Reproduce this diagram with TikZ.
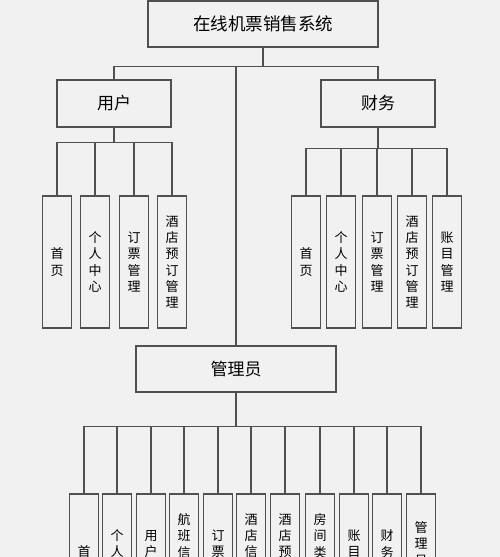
\documentclass[tikz,border=0pt]{standalone}
\usepackage{fontspec}
\setmainfont{Noto Sans CJK SC}
\usetikzlibrary{positioning}
\definecolor{bggray}{HTML}{F1F1F1}
\definecolor{linegray}{HTML}{505050}
\tikzset{
	box/.style={draw=linegray,line width=1.3pt,fill=bggray,inner sep=0pt,text=black,font=\fontsize{17}{19}\selectfont},
	leaf/.style={box,minimum width=29,minimum height=132,align=center,font=\fontsize{13}{16.3}\selectfont},
	wire/.style={linegray,line width=1.2pt}
}
\begin{document}
\begin{tikzpicture}[x=1pt,y=-1pt]
	\useasboundingbox (0,0) rectangle (500,557);
	\clip (0,0) rectangle (500,557);
	\fill[bggray] (0,0) rectangle (500,557);
	% main blocks
	\node[box,minimum width=230,minimum height=46,font=\fontsize{17.5}{19}\selectfont] (sys) at (263,24) {在线机票销售系统};
	\node[box,minimum width=114,minimum height=47] (user) at (114,103.5) {用户};
	\node[box,minimum width=114,minimum height=47] (fin) at (378,103.5) {财务};
	\node[box,minimum width=200,minimum height=46] (admin) at (236,369) {管理员};
	% leaves
	\foreach \x/\t [count=\i] in {57/{首\\页},95/{个\\人\\中\\心},134/{订\\票\\管\\理},172/{酒\\店\\预\\订\\管\\理}}
	\node[leaf] (u\i) at (\x,262) {\t};
	\foreach \x/\t [count=\i] in {306/{首\\页},341/{个\\人\\中\\心},377/{订\\票\\管\\理},412/{酒\\店\\预\\订\\管\\理},447/{账\\目\\管\\理}}
	\node[leaf] (f\i) at (\x,262) {\t};
	\foreach \x/\t [count=\i] in {84/{首\\页},117/{个\\人\\中\\心},151/{用\\户\\管\\理},184/{航\\班\\信\\息\\管\\理},218/{订\\票\\管\\理},251/{酒\\店\\信\\息\\管\\理},285/{酒\\店\\预\\订\\管\\理},320/{房\\间\\类\\型\\管\\理},354/{账\\目\\管\\理},387/{财\\务\\管\\理},421/{管\\理\\员\\管\\理}}
	\node[leaf] (a\i) at (\x,560) {\t};
	% connectors
	\draw[wire] (sys.south) -- ++(0,19) coordinate (sbus);
	\draw[wire] (user.north) |- (sbus) -| (fin.north);
	\draw[wire] (admin.north) -- (admin.north |- sbus);
	\draw[wire] (user.south) -- ++(0,15) coordinate (ubus);
	\foreach \i in {1,...,4}
	\draw[wire] (ubus) -| (u\i.north);
	\draw[wire] (fin.south) -- ++(0,21) coordinate (fbus);
	\foreach \i in {1,...,5}
	\draw[wire] (fbus) -| (f\i.north);
	\draw[wire] (admin.south) -- ++(0,34) coordinate (abus);
	\foreach \i in {1,...,11}
	\draw[wire] (abus) -| (a\i.north);
\end{tikzpicture}
\end{document}
